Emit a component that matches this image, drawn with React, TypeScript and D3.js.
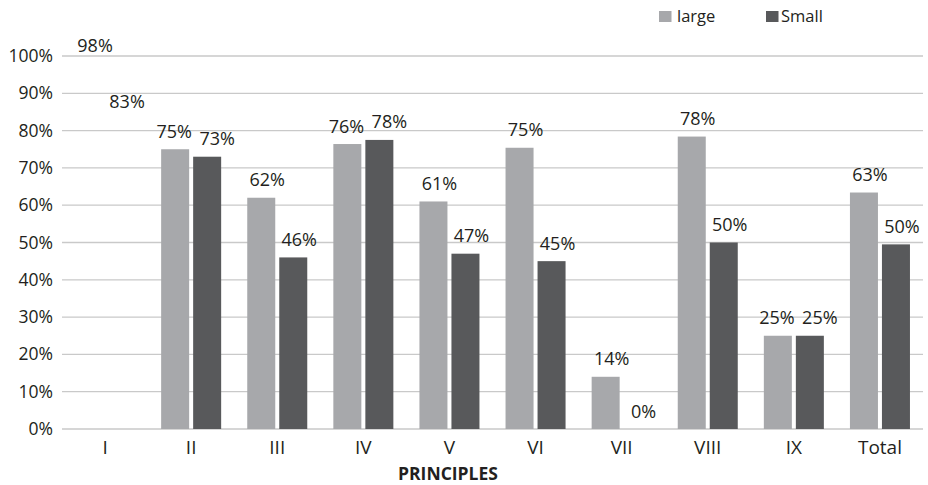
import React from "react";
import * as d3 from "d3";

const categories = ["I", "II", "III", "IV", "V", "VI", "VII", "VIII", "IX", "Total"];
const seriesNames = ["large", "Small"];
const largeValues = [0.98, 0.75, 0.62, 0.764, 0.61, 0.754, 0.14, 0.784, 0.25, 0.634];
const smallValues = [0.83, 0.73, 0.46, 0.775, 0.47, 0.45, 0.0, 0.50, 0.25, 0.495];
const hiddenBarCategories = ["I"];
const yTicks = [0, 0.1, 0.2, 0.3, 0.4, 0.5, 0.6, 0.7, 0.8, 0.9, 1.0];
const xAxisTitle = "PRINCIPLES";

const colors: Record<string, string> = { large: "#a7a8ab", Small: "#58595b" };
const FONT = "'Open Sans', sans-serif";
const TEXT = "#231f20";

export default function App() {
  const W = 928, H = 485;
  const left = 62, right = 923, top = 56, bottom = 429;

  const x = d3.scaleBand<string>().domain(categories).range([left, right]).paddingInner(0.303).paddingOuter(0.1515);
  const xs = d3.scaleBand<string>().domain(seriesNames).range([0, x.bandwidth()]).paddingInner(0.125);
  const y = d3.scaleLinear().domain([0, 1]).range([bottom, top]);
  const pct = d3.format(".0%");
  const labelFont = 18;
  const labelW = 36;
  const gap = 11.5;

  const rows = categories.map((c, i) => {
    const vals = [largeValues[i], smallValues[i]];
    const pos = seriesNames.map((s, j) => ({
      cx: xs(s)! + xs.bandwidth() / 2 + 6,
      by: y(vals[j]) - gap,
    }));
    // simple collision avoidance between the two labels of a group
    const dxC = pos[1].cx - pos[0].cx;
    const dyC = Math.abs(pos[1].by - pos[0].by);
    if (dxC < labelW + 2 && dyC < 14) {
      pos[0].cx = xs(seriesNames[0])! + xs.bandwidth() / 2 - 1;
      pos[1].cx = xs(seriesNames[1])! + xs.bandwidth() / 2 + 10;
    }
    return { c, vals, pos };
  });

  return (
    <svg width={W} height={H} style={{ position: "absolute", left: 0, top: 0, background: "#fff" }} fontFamily={FONT}>
      {yTicks.map((t) => (
        <g key={t}>
          <line x1={left} x2={right} y1={y(t)} y2={y(t)} stroke="#c9c9c9" strokeWidth={1.3} />
          <text x={53} y={y(t) + 6} textAnchor="end" fontSize={17.5} fill={TEXT}>{pct(t)}</text>
        </g>
      ))}
      {rows.map((r) => (
        <g key={r.c} transform={`translate(${x(r.c)},0)`}>
          {seriesNames.map((s, j) => {
            const v = r.vals[j];
            const bx = xs(s)!;
            const show = !hiddenBarCategories.includes(r.c);
            return (
              <g key={s}>
                {show && (
                  <rect x={bx} y={y(v)} width={xs.bandwidth()} height={y(0) - y(v)} fill={colors[s]} />
                )}
                <text x={r.pos[j].cx} y={r.pos[j].by} textAnchor="middle" fontSize={labelFont} fill={TEXT}>
                  {pct(v)}
                </text>
              </g>
            );
          })}
          <text x={x.bandwidth() / 2} y={454} textAnchor="middle" fontSize={19} fill={TEXT}>{r.c}</text>
        </g>
      ))}
      <text x={448} y={480} textAnchor="middle" fontSize={17.5} fontWeight="bold" fill={TEXT}>{xAxisTitle}</text>
      {seriesNames.map((s, i) => (
        <g key={s} transform={`translate(${i === 0 ? 659 : 766},11)`}>
          <rect x={0} y={0} width={12.5} height={11} fill={colors[s]} />
          <text x={i === 0 ? 18 : 15} y={11} fontSize={16.5} fill={TEXT}>{s}</text>
        </g>
      ))}
    </svg>
  );
}
